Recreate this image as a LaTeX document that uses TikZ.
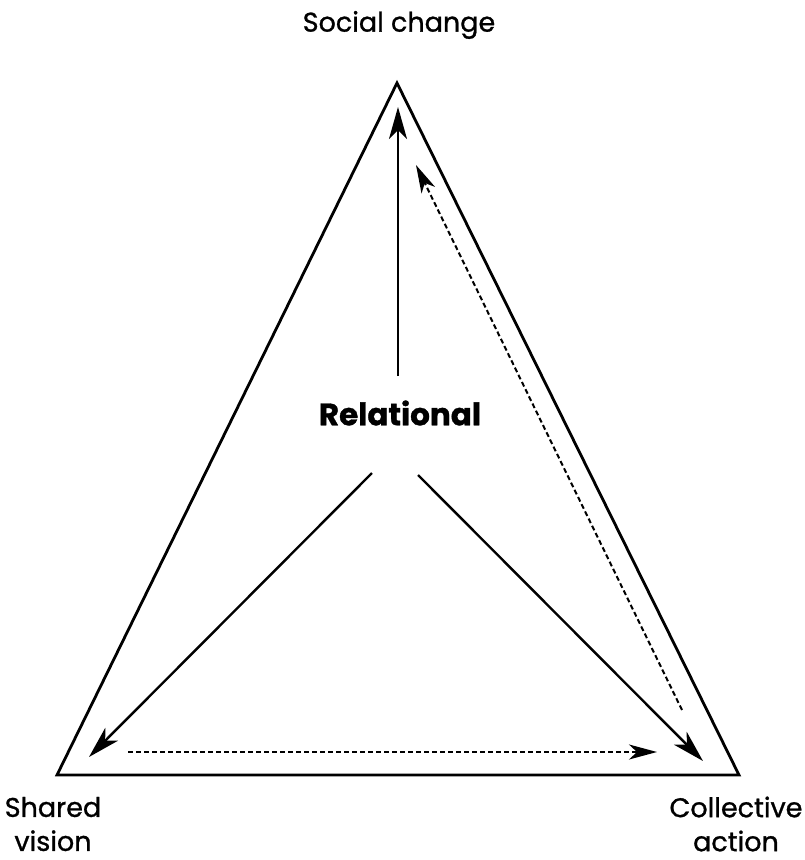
\documentclass[tikz,border=0pt]{standalone}
\usepackage{fontspec}
\setmainfont{Poppins}[FakeBold=1]
\usetikzlibrary{arrows.meta}
\begin{document}
\begin{tikzpicture}[x=1pt,y=-1pt,
  edge/.style={line width=2.8pt, line join=miter},
  link/.style={line width=2.4pt, -{Stealth[length=32pt,width=18pt,inset=9pt]}},
  dlink/.style={line width=2pt, dash pattern=on 5pt off 3pt, -{Stealth[length=28pt,width=15pt,inset=8pt]}},
  label/.style={font=\fontsize{27}{34}\selectfont, align=center, inner sep=0pt}]
  \useasboundingbox (0,0) rectangle (805,860);
  % triangle corners
  \coordinate (top) at (397,83);
  \coordinate (bl) at (57,775);
  \coordinate (br) at (739,775);
  \draw[edge] (top) -- (bl) -- (br) -- cycle;
  % labels
  \node[label] (social) at (399,25) {Social change};
  \node[label, font=\fontsize{31}{36}\selectfont\bfseries] (rel) at (400,413) {Relational};
  \node[label] (shared) at (53,824) {Shared\\vision};
  \node[label] (coll) at (736,824) {Collective\\action};
  % arrow end points
  \coordinate (upS) at (398,376);
  \coordinate (upE) at (398,107);
  \coordinate (lS) at (372,473);
  \coordinate (lE) at (89,757);
  \coordinate (rS) at (418,475);
  \coordinate (rE) at (703,761);
  \coordinate (hS) at (128,752);
  \coordinate (hE) at (657,752);
  \coordinate (dS) at (682,710);
  \coordinate (dE) at (416,165);
  \draw[link] (upS) -- (upE);
  \draw[link] (lS) -- (lE);
  \draw[link] (rS) -- (rE);
  \draw[dlink] (hS) -- (hE);
  \draw[dlink] (dS) -- (dE);
\end{tikzpicture}
\end{document}
